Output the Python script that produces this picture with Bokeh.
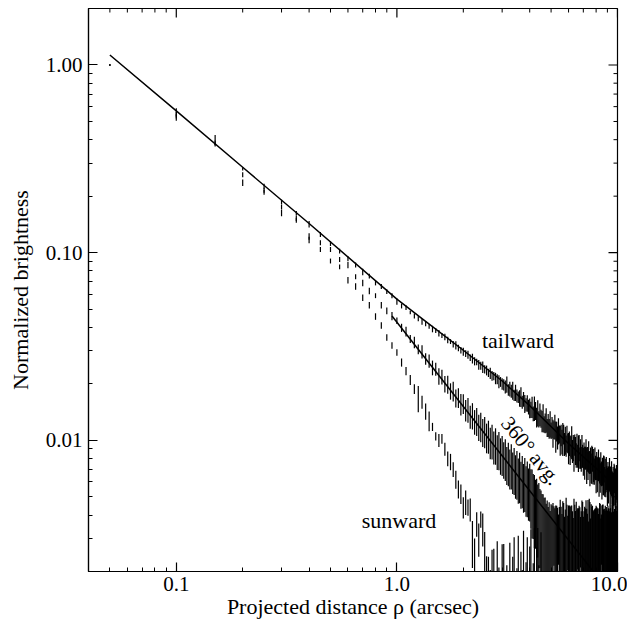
import numpy as np
from bokeh.plotting import figure
from bokeh.models import (FixedTicker, PrintfTickFormatter,
                          ColumnDataSource, Range1d, Label)
from bokeh.embed import file_html
from bokeh.resources import INLINE

# ---------------- data ----------------
STEP = 0.05  # radial sampling of the profiles (arcsec)

TAIL_Y = [
    1.00, 0.56, 0.40, 0.28, 0.226, 0.186, 0.162, 0.142, 0.125, 0.112,
    0.102, 0.093, 0.086, 0.079, 0.075, 0.069, 0.066, 0.062, 0.059, 0.055,
    0.052, 0.051, 0.048, 0.046, 0.0445, 0.043, 0.0418, 0.0405, 0.0392, 0.0385,
    0.0372, 0.0362, 0.0356, 0.0343, 0.0336, 0.0325, 0.0321, 0.0311, 0.0302, 0.0297,
    0.0290, 0.0286, 0.0276, 0.0273, 0.0264, 0.0262, 0.0253, 0.0250, 0.0246, 0.0239,
    0.0236, 0.0229, 0.0228, 0.0221, 0.0220, 0.0214, 0.0212, 0.0206, 0.0205, 0.0200,
    0.0198, 0.0193, 0.0199, 0.0186, 0.0188, 0.0183, 0.0185, 0.0174, 0.0180, 0.0173,
    0.0170, 0.0168, 0.0171, 0.0160, 0.0166, 0.0157, 0.0155, 0.0158, 0.0151, 0.0149,
    0.0146, 0.0151, 0.0139, 0.0149, 0.0144, 0.0133, 0.0141, 0.0130, 0.0138, 0.0131,
    0.0127, 0.0133, 0.0122, 0.0124, 0.0129, 0.0117, 0.0121, 0.0116, 0.0123, 0.0113,
    0.0118, 0.0110, 0.0114, 0.0119, 0.0106, 0.0112, 0.0104, 0.0113, 0.0108, 0.0101,
    0.0107, 0.0099, 0.0103, 0.0108, 0.0096, 0.0101, 0.0094, 0.0103, 0.0097, 0.0092,
    0.0097, 0.0090, 0.0093, 0.0099, 0.0088, 0.0092, 0.0086, 0.0095, 0.0089, 0.0084,
    0.0091, 0.0083, 0.0087, 0.0092, 0.0081, 0.0086, 0.0080, 0.0089, 0.0083, 0.0078,
    0.0084, 0.0077, 0.0081, 0.0086, 0.0075, 0.0080, 0.0074, 0.0083, 0.0077, 0.0072,
    0.0079, 0.0072, 0.0076, 0.0080, 0.0070, 0.0075, 0.0069, 0.0077, 0.0072, 0.0067,
    0.0074, 0.0067, 0.0071, 0.0075, 0.0065, 0.0070, 0.0064, 0.0072, 0.0067, 0.0062,
    0.0069, 0.0063, 0.0067, 0.0071, 0.0061, 0.0066, 0.0060, 0.0068, 0.0063, 0.0058,
    0.0065, 0.0059, 0.0063, 0.0067, 0.0057, 0.0062, 0.0056, 0.0064, 0.0059, 0.0055,
    0.0061, 0.0056, 0.0060, 0.0063, 0.0054, 0.0058, 0.0053, 0.0061, 0.0056, 0.0052,
]
TAIL_E = [
    0.01, 0.05, 0.06, 0.02, 0.03, 0.03, 0.03, 0.04, 0.03, 0.03,
    0.03, 0.03, 0.03, 0.04, 0.03, 0.03, 0.03, 0.03, 0.03, 0.04,
    0.03, 0.03, 0.02, 0.03, 0.03, 0.04, 0.03, 0.03, 0.04, 0.03,
    0.04, 0.03, 0.04, 0.04, 0.03, 0.04, 0.05, 0.04, 0.04, 0.05,
    0.04, 0.05, 0.04, 0.06, 0.05, 0.04, 0.06, 0.05, 0.07, 0.05,
    0.06, 0.05, 0.07, 0.06, 0.05, 0.07, 0.06, 0.08, 0.06, 0.07,
    0.07, 0.08, 0.10, 0.07, 0.09, 0.08, 0.11, 0.07, 0.10, 0.08,
    0.07, 0.10, 0.12, 0.08, 0.09, 0.11, 0.08, 0.10, 0.09, 0.12,
    0.10, 0.13, 0.09, 0.15, 0.11, 0.12, 0.16, 0.10, 0.14, 0.11,
    0.13, 0.17, 0.10, 0.12, 0.15, 0.11, 0.14, 0.12, 0.16, 0.10,
    0.13, 0.17, 0.11, 0.15, 0.19, 0.12, 0.14, 0.16, 0.11, 0.18,
    0.13, 0.15, 0.20, 0.12, 0.14, 0.17, 0.13, 0.16, 0.12, 0.19,
    0.15, 0.18, 0.13, 0.20, 0.14, 0.16, 0.21, 0.13, 0.17, 0.15,
    0.19, 0.14, 0.22, 0.16, 0.13, 0.18, 0.15, 0.20, 0.14, 0.17,
    0.16, 0.20, 0.14, 0.18, 0.22, 0.15, 0.17, 0.19, 0.14, 0.21,
    0.16, 0.18, 0.23, 0.15, 0.17, 0.20, 0.16, 0.19, 0.15, 0.22,
    0.17, 0.21, 0.15, 0.19, 0.23, 0.16, 0.18, 0.20, 0.15, 0.22,
    0.17, 0.19, 0.24, 0.16, 0.18, 0.21, 0.17, 0.20, 0.16, 0.23,
    0.18, 0.22, 0.16, 0.20, 0.24, 0.17, 0.19, 0.21, 0.16, 0.23,
    0.18, 0.20, 0.25, 0.17, 0.19, 0.22, 0.18, 0.21, 0.17, 0.24,
]

AVG_Y = [
    1.00, 0.54, 0.385, 0.26, 0.215, 0.175, 0.152, 0.122, 0.113, 0.104,
    0.092, 0.086, 0.0745, 0.069, 0.0625, 0.059, 0.0525, 0.049, 0.046, 0.0434,
    0.0398, 0.0380, 0.0347, 0.0333, 0.0306, 0.0297, 0.0272, 0.0265, 0.0244, 0.0240,
    0.0220, 0.0218, 0.0200, 0.0199, 0.0183, 0.0183, 0.0168, 0.0169, 0.0156, 0.0157,
    0.0145, 0.0146, 0.0134, 0.0136, 0.0126, 0.0127, 0.0118, 0.0119, 0.0111, 0.0112,
    0.0104, 0.0106, 0.0098, 0.0100, 0.0093, 0.0095, 0.0088, 0.0090, 0.0084, 0.0085,
    0.0080, 0.0081, 0.0075, 0.0077, 0.0072, 0.0075, 0.0069, 0.0071, 0.0066, 0.0068,
    0.0063, 0.0066, 0.0060, 0.0063, 0.0058, 0.0061, 0.0056, 0.0058, 0.0054, 0.0056,
    0.0052, 0.0050, 0.0048, 0.0046, 0.0044, 0.0043, 0.0041, 0.0040, 0.0038, 0.0036,
    0.0035, 0.0034, 0.0033, 0.0032, 0.0031, 0.0031, 0.0030, 0.0030, 0.0029, 0.0030,
    0.0031, 0.0029, 0.0033, 0.0028, 0.0030, 0.0032, 0.0027, 0.0031, 0.0029, 0.0034,
    0.0028, 0.0030, 0.0032, 0.0029, 0.0027, 0.0031, 0.0033, 0.0028, 0.0030, 0.0029,
    0.0030, 0.0032, 0.0028, 0.0031, 0.0027, 0.0029, 0.0033, 0.0028, 0.0030, 0.0031,
    0.0027, 0.0032, 0.0029, 0.0028, 0.0031, 0.0030, 0.0027, 0.0033, 0.0029, 0.0028,
    0.0031, 0.0028, 0.0030, 0.0032, 0.0027, 0.0029, 0.0031, 0.0028, 0.0033, 0.0029,
    0.0027, 0.0030, 0.0032, 0.0028, 0.0029, 0.0031, 0.0027, 0.0030, 0.0028, 0.0032,
    0.0029, 0.0031, 0.0027, 0.0030, 0.0028, 0.0032, 0.0029, 0.0027, 0.0031, 0.0030,
    0.0028, 0.0033, 0.0029, 0.0027, 0.0030, 0.0028, 0.0031, 0.0029, 0.0027, 0.0030,
    0.0028, 0.0030, 0.0032, 0.0027, 0.0029, 0.0031, 0.0028, 0.0030, 0.0027, 0.0032,
    0.0029, 0.0028, 0.0031, 0.0027, 0.0030, 0.0029, 0.0032, 0.0028, 0.0030, 0.0029,
]
AVG_E = [
    0.01, 0.04, 0.03, 0.03, 0.03, 0.03, 0.03, 0.04, 0.03, 0.03,
    0.03, 0.04, 0.03, 0.04, 0.04, 0.03, 0.04, 0.04, 0.05, 0.04,
    0.05, 0.06, 0.05, 0.07, 0.06, 0.08, 0.07, 0.08, 0.09, 0.08,
    0.10, 0.09, 0.10, 0.11, 0.10, 0.12, 0.11, 0.12, 0.13, 0.12,
    0.13, 0.15, 0.14, 0.16, 0.15, 0.17, 0.16, 0.18, 0.17, 0.19,
    0.18, 0.20, 0.19, 0.21, 0.20, 0.22, 0.21, 0.23, 0.22, 0.24,
    0.22, 0.25, 0.23, 0.26, 0.24, 0.27, 0.25, 0.28, 0.26, 0.29,
    0.27, 0.30, 0.28, 0.31, 0.29, 0.32, 0.30, 0.33, 0.31, 0.34,
    0.35, 0.40, 0.38, 0.42, 0.40, 0.45, 0.42, 0.48, 0.45, 0.50,
    0.48, 0.52, 0.50, 0.55, 0.48, 0.54, 0.47, 0.56, 0.45, 0.52,
    0.45, 0.60, 0.35, 0.55, 0.50, 0.40, 0.62, 0.30, 0.52, 0.42,
    0.58, 0.35, 0.48, 0.60, 0.45, 0.38, 0.50, 0.62, 0.32, 0.55,
    0.50, 0.38, 0.60, 0.45, 0.55, 0.33, 0.48, 0.62, 0.40, 0.52,
    0.58, 0.36, 0.50, 0.60, 0.42, 0.30, 0.55, 0.45, 0.62, 0.40,
    0.35, 0.58, 0.45, 0.50, 0.60, 0.40, 0.55, 0.32, 0.48, 0.62,
    0.42, 0.52, 0.38, 0.60, 0.46, 0.35, 0.58, 0.44, 0.55, 0.40,
    0.52, 0.40, 0.60, 0.35, 0.55, 0.45, 0.58, 0.42, 0.30, 0.50,
    0.62, 0.38, 0.48, 0.56, 0.44, 0.60, 0.36, 0.52, 0.58, 0.40,
    0.60, 0.45, 0.35, 0.55, 0.50, 0.40, 0.62, 0.38, 0.52, 0.42,
    0.58, 0.48, 0.36, 0.60, 0.44, 0.55, 0.40, 0.50, 0.46, 0.58,
]

SUN_Y = [
    1.00, 0.525, 0.375, 0.236, 0.21, 0.163, 0.149, 0.117, 0.104, 0.0903,
    0.084, 0.0713, 0.066, 0.0576, 0.0525, 0.0457, 0.041, 0.0353, 0.032, 0.0294,
    0.026, 0.0234, 0.021, 0.0188, 0.0168, 0.0160, 0.0143, 0.0127, 0.0118, 0.0105,
    0.0100, 0.0102, 0.0090, 0.0080, 0.0077, 0.0070, 0.0062, 0.0055, 0.0052, 0.0044,
    0.0047, 0.0044, 0.0043, 0.0029, 0.0025, 0.0036, 0.0030, 0.0038, 0.0034, 0.0026,
    0.0021, 0.0015, 0.0012, 0.0018, 0.0022, 0.0010, 0.0021, 0.0014, 0.0008, 0.0018,
    0.0020, 0.0012, 0.0016, 0.0009, 0.0019, 0.0011, 0.0015, 0.0021, 0.0010, 0.0013,
    0.0020, 0.0009, 0.0017, 0.0012, 0.0022, 0.0010, 0.0014, 0.0019, 0.0008, 0.0016,
    0.0021, 0.0011, 0.0013, 0.0020, 0.0009, 0.0015, 0.0022, 0.0012, 0.0010, 0.0018,
]
SUN_E = [
    0.01, 0.04, 0.02, 0.04, 0.03, 0.04, 0.03, 0.04, 0.03, 0.03,
    0.03, 0.04, 0.04, 0.04, 0.04, 0.04, 0.04, 0.04, 0.04, 0.04,
    0.05, 0.05, 0.06, 0.06, 0.16, 0.08, 0.10, 0.12, 0.05, 0.05,
    0.08, 0.06, 0.08, 0.09, 0.10, 0.09, 0.11, 0.11, 0.12, 0.13,
    0.15, 0.10, 0.14, 0.28, 0.20, 0.15, 0.20, 0.10, 0.20, 0.25,
    0.15, 0.60, 0.70, 0.45, 0.20, 0.80, 0.38, 0.50, 0.90, 0.55,
    0.40, 0.60, 0.35, 0.80, 0.50, 0.70, 0.60, 0.45, 0.80, 0.60,
    0.55, 0.90, 0.50, 0.70, 0.50, 0.80, 0.60, 0.60, 0.90, 0.70,
    0.60, 0.80, 0.70, 0.70, 0.90, 0.80, 0.55, 0.80, 0.90, 0.80,
]

# fitted profiles
TAIL_FIT_X = [0.05, 0.1, 0.2, 0.4, 1.0, 1.3, 2.0, 3.0, 4.0, 6.0, 8.0, 10.0]
TAIL_FIT_Y = [1.13, 0.57, 0.285, 0.143, 0.0565, 0.0445, 0.0302, 0.0207, 0.0153,
              0.0096, 0.0071, 0.0056]
AVG_FIT_X = [0.95, 7.8]
AVG_FIT_Y = [0.046, 0.00199]

# axes
X_MIN, X_MAX = 0.04, 10.0
Y_MIN, Y_MAX = 0.002, 2.0
X_MAJOR = [0.1, 1.0, 10.0]
X_MINOR = [0.05, 0.06, 0.07, 0.08, 0.09, 0.2, 0.3, 0.4, 0.5, 0.6, 0.7, 0.8, 0.9,
           2, 3, 4, 5, 6, 7, 8, 9]
Y_MAJOR = [0.01, 0.1, 1.0]
Y_MINOR = [0.002, 0.003, 0.004, 0.005, 0.006, 0.007, 0.008, 0.009,
           0.02, 0.03, 0.04, 0.05, 0.06, 0.07, 0.08, 0.09,
           0.2, 0.3, 0.4, 0.5, 0.6, 0.7, 0.8, 0.9, 2.0]

FONT = "Liberation Serif"
MAJ_LEN, MIN_LEN = 9, 4

# ---------------- figure ----------------
p = figure(x_axis_type="log", y_axis_type="log",
           x_range=Range1d(X_MIN, X_MAX), y_range=Range1d(Y_MIN, Y_MAX),
           frame_width=529, frame_height=563,
           min_border_left=88, min_border_right=10,
           min_border_top=8, min_border_bottom=2,
           output_backend="svg", toolbar_location=None)
p.xgrid.visible = False
p.ygrid.visible = False
p.outline_line_color = "black"
p.outline_line_width = 1.2
p.background_fill_color = "white"
p.border_fill_color = "white"


def style_axis(ax, ticks, minor, fmt):
    ax.ticker = FixedTicker(ticks=ticks, minor_ticks=minor)
    ax.formatter = PrintfTickFormatter(format=fmt)
    ax.major_tick_in = MAJ_LEN
    ax.major_tick_out = 0
    ax.minor_tick_in = MIN_LEN
    ax.minor_tick_out = 0
    ax.major_tick_line_color = "black"
    ax.minor_tick_line_color = "black"
    ax.major_tick_line_width = 1.2
    ax.minor_tick_line_width = 1
    ax.axis_line_color = "black"
    ax.axis_line_width = 1.2
    ax.major_label_text_font = FONT
    ax.major_label_text_color = "black"
    ax.major_label_text_font_size = "21px"
    ax.axis_label_text_font = FONT
    ax.axis_label_text_font_size = "22px"
    ax.axis_label_text_font_style = "normal"
    ax.axis_label_text_color = "black"


xb = p.below[0]
yl = p.left[0]
style_axis(xb, X_MAJOR, X_MINOR, "%.1f")
style_axis(yl, Y_MAJOR, Y_MINOR, "%.2f")
xb.axis_label = "Projected distance \u03c1 (arcsec)"
yl.axis_label = "Normalized brightness"
xb.major_label_standoff = 5
xb.axis_label_standoff = 0
yl.major_label_standoff = 6
yl.axis_label_standoff = 10

# mirrored inward ticks on the top and right frame edges
p.ray(x=X_MAJOR, y=[Y_MAX] * len(X_MAJOR), length=MAJ_LEN, length_units="screen",
      angle=-90, angle_units="deg", line_color="black", line_width=1.2)
p.ray(x=X_MINOR, y=[Y_MAX] * len(X_MINOR), length=MIN_LEN, length_units="screen",
      angle=-90, angle_units="deg", line_color="black", line_width=1)
p.ray(x=[X_MAX] * len(Y_MAJOR), y=Y_MAJOR, length=MAJ_LEN, length_units="screen",
      angle=180, angle_units="deg", line_color="black", line_width=1.2)
p.ray(x=[X_MAX] * len(Y_MINOR), y=Y_MINOR, length=MIN_LEN, length_units="screen",
      angle=180, angle_units="deg", line_color="black", line_width=1)

# ---------------- error bars ----------------
rho = [round(STEP * k, 2) for k in range(1, 201)]


def bars(yv, ev):
    xs, lo, hi = [], [], []
    for x, y, e in zip(rho, yv, ev):
        xs.append(x)
        lo.append(y * (1.0 - e))
        hi.append(y * (1.0 + e))
    return ColumnDataSource(dict(x=xs, lo=lo, hi=hi))


for yv, ev in ((SUN_Y, SUN_E), (AVG_Y, AVG_E), (TAIL_Y, TAIL_E)):
    src = bars(yv, ev)
    p.segment(x0="x", x1="x", y0="lo", y1="hi", source=src,
              line_color="black", line_width=1.2)

# ---------------- fitted curves ----------------
p.line(TAIL_FIT_X, TAIL_FIT_Y, line_color="black", line_width=1.5)
p.line(AVG_FIT_X, AVG_FIT_Y, line_color="black", line_width=1.5)

# ---------------- annotations ----------------
p.add_layout(Label(x=2.43, y=0.0339, text="tailward", text_font=FONT,
                   text_font_size="22px", text_color="black",
                   text_align="left", text_baseline="alphabetic"))
p.add_layout(Label(x=0.693, y=0.00375, text="sunward", text_font=FONT,
                   text_font_size="22px", text_color="black",
                   text_align="left", text_baseline="alphabetic"))
p.add_layout(Label(x=4.05, y=0.0088, text="360\u00b0 avg.", text_font=FONT,
                   text_font_size="21px", text_color="black",
                   text_align="center", text_baseline="middle",
                   angle=-51, angle_units="deg"))

open("out.html", "w").write(file_html(p, INLINE))
